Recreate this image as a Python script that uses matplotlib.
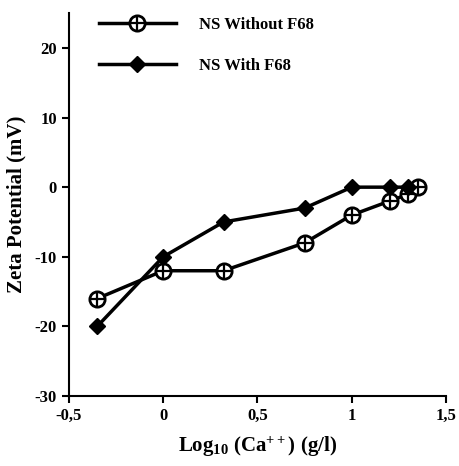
import matplotlib.pyplot as plt
from matplotlib.legend_handler import HandlerTuple

plt.rcParams['font.family'] = ['Liberation Serif', 'DejaVu Serif']
plt.rcParams['font.weight'] = 'bold'
plt.rcParams['axes.unicode_minus'] = False
plt.rcParams['mathtext.fontset'] = 'custom'
plt.rcParams['mathtext.rm'] = 'Liberation Serif:bold'
plt.rcParams['mathtext.it'] = 'Liberation Serif:bold'
plt.rcParams['mathtext.bf'] = 'Liberation Serif:bold'

# data
x_without = [-0.35, 0.0, 0.32, 0.75, 1.0, 1.2, 1.3, 1.35]
y_without = [-16, -12, -12, -8, -4, -2, -1, 0]
x_with = [-0.35, 0.0, 0.32, 0.75, 1.0, 1.2, 1.3]
y_with = [-20, -10, -5, -3, 0, 0, 0]

xticks = [-0.5, 0, 0.5, 1, 1.5]
xticklabels = ['-0,5', '0', '0,5', '1', '1,5']
yticks = [-30, -20, -10, 0, 10, 20]

fig = plt.figure(figsize=(4.59, 4.66), dpi=100)
ax = fig.add_axes([0.150, 0.150, 0.822, 0.822])

l1, = ax.plot(x_without, y_without, color='black', lw=2.5, zorder=2)
m1, = ax.plot(x_without, y_without, 'o', ms=11, mfc='white', mec='black', mew=2, zorder=3)
p1, = ax.plot(x_without, y_without, '+', ms=10, mec='black', mew=1.6, zorder=4)

l2, = ax.plot(x_with, y_with, color='black', lw=2.5, zorder=2)
m2, = ax.plot(x_with, y_with, 'D', ms=8, mfc='black', mec='black', zorder=3)

ax.set_xlim(-0.5, 1.5)
ax.set_ylim(-30, 25)
ax.set_xticks(xticks)
ax.set_xticklabels(xticklabels)
ax.set_yticks(yticks)
for s in ['top', 'right']:
    ax.spines[s].set_visible(False)
for s in ['left', 'bottom']:
    ax.spines[s].set_linewidth(1.5)
ax.tick_params(direction='out', width=1.5, length=5, labelsize=12)

ax.set_xlabel(r'Log$_{10}$ (Ca$^{++}$) (g/l)', fontsize=15, fontweight='bold', labelpad=8)
ax.set_ylabel('Zeta Potential (mV)', fontsize=15, fontweight='bold', labelpad=6)

ax.legend([(l1, m1, p1), (l2, m2)], ['NS Without F68', 'NS With F68'],
          handler_map={tuple: HandlerTuple(ndivide=1, pad=0)},
          loc='upper left', bbox_to_anchor=(0.04, 1.03), frameon=False,
          handlelength=4.6, labelspacing=1.5, handletextpad=1.4,
          prop={'weight': 'bold', 'size': 12})

fig.savefig('out.png', dpi=100)
